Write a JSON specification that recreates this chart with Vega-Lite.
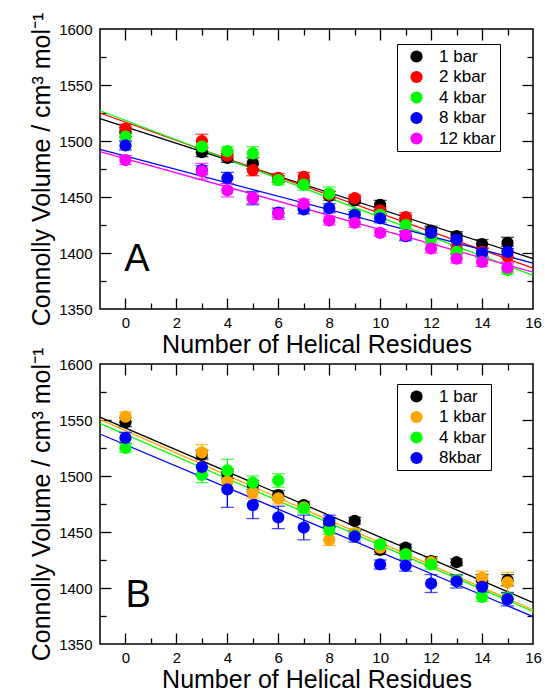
{
  "$schema": "https://vega.github.io/schema/vega-lite/v6.json",
  "padding": {"left": 28, "top": 11, "right": 4, "bottom": 0},
  "bounds": "flush",
  "spacing": 55,
  "datasets": {
    "ptsA": [
      {"s":"1 bar","x":0,"v":1508,"lo":1504,"hi":1512},
      {"s":"1 bar","x":3,"v":1490,"lo":1486,"hi":1494},
      {"s":"1 bar","x":4,"v":1485,"lo":1481,"hi":1489},
      {"s":"1 bar","x":5,"v":1480,"lo":1475,"hi":1485},
      {"s":"1 bar","x":6,"v":1466,"lo":1463,"hi":1469},
      {"s":"1 bar","x":7,"v":1462,"lo":1459,"hi":1465},
      {"s":"1 bar","x":8,"v":1451,"lo":1447,"hi":1455},
      {"s":"1 bar","x":9,"v":1447,"lo":1444,"hi":1450},
      {"s":"1 bar","x":10,"v":1443,"lo":1439,"hi":1447},
      {"s":"1 bar","x":11,"v":1431,"lo":1428,"hi":1434},
      {"s":"1 bar","x":12,"v":1420,"lo":1416,"hi":1424},
      {"s":"1 bar","x":13,"v":1415,"lo":1411,"hi":1419},
      {"s":"1 bar","x":14,"v":1408,"lo":1404,"hi":1412},
      {"s":"1 bar","x":15,"v":1409,"lo":1404,"hi":1414},
      {"s":"2 kbar","x":0,"v":1511,"lo":1507,"hi":1515},
      {"s":"2 kbar","x":3,"v":1500,"lo":1494,"hi":1506},
      {"s":"2 kbar","x":4,"v":1487,"lo":1483,"hi":1491},
      {"s":"2 kbar","x":5,"v":1474,"lo":1469,"hi":1479},
      {"s":"2 kbar","x":6,"v":1467,"lo":1463,"hi":1471},
      {"s":"2 kbar","x":7,"v":1468,"lo":1464,"hi":1472},
      {"s":"2 kbar","x":8,"v":1452,"lo":1449,"hi":1455},
      {"s":"2 kbar","x":9,"v":1449,"lo":1446,"hi":1452},
      {"s":"2 kbar","x":10,"v":1438,"lo":1435,"hi":1441},
      {"s":"2 kbar","x":11,"v":1432,"lo":1428,"hi":1436},
      {"s":"2 kbar","x":12,"v":1417,"lo":1414,"hi":1420},
      {"s":"2 kbar","x":13,"v":1403,"lo":1399,"hi":1407},
      {"s":"2 kbar","x":14,"v":1401,"lo":1397,"hi":1405},
      {"s":"2 kbar","x":15,"v":1397,"lo":1392,"hi":1402},
      {"s":"4 kbar","x":0,"v":1504,"lo":1500,"hi":1508},
      {"s":"4 kbar","x":3,"v":1495,"lo":1490,"hi":1500},
      {"s":"4 kbar","x":4,"v":1491,"lo":1487,"hi":1495},
      {"s":"4 kbar","x":5,"v":1489,"lo":1483,"hi":1495},
      {"s":"4 kbar","x":6,"v":1465,"lo":1461,"hi":1469},
      {"s":"4 kbar","x":7,"v":1461,"lo":1456,"hi":1466},
      {"s":"4 kbar","x":8,"v":1453,"lo":1447,"hi":1459},
      {"s":"4 kbar","x":9,"v":1435,"lo":1431,"hi":1439},
      {"s":"4 kbar","x":10,"v":1434,"lo":1430,"hi":1438},
      {"s":"4 kbar","x":11,"v":1425,"lo":1420,"hi":1430},
      {"s":"4 kbar","x":12,"v":1413,"lo":1409,"hi":1417},
      {"s":"4 kbar","x":13,"v":1401,"lo":1396,"hi":1406},
      {"s":"4 kbar","x":14,"v":1398,"lo":1394,"hi":1402},
      {"s":"4 kbar","x":15,"v":1385,"lo":1381,"hi":1389},
      {"s":"8 kbar","x":0,"v":1496,"lo":1492,"hi":1500},
      {"s":"8 kbar","x":3,"v":1474,"lo":1470,"hi":1478},
      {"s":"8 kbar","x":4,"v":1467,"lo":1462,"hi":1472},
      {"s":"8 kbar","x":5,"v":1449,"lo":1443,"hi":1455},
      {"s":"8 kbar","x":6,"v":1436,"lo":1432,"hi":1440},
      {"s":"8 kbar","x":7,"v":1439,"lo":1435,"hi":1443},
      {"s":"8 kbar","x":8,"v":1440,"lo":1436,"hi":1444},
      {"s":"8 kbar","x":9,"v":1434,"lo":1431,"hi":1437},
      {"s":"8 kbar","x":10,"v":1431,"lo":1427,"hi":1435},
      {"s":"8 kbar","x":11,"v":1415,"lo":1411,"hi":1419},
      {"s":"8 kbar","x":12,"v":1418,"lo":1413,"hi":1423},
      {"s":"8 kbar","x":13,"v":1412,"lo":1407,"hi":1417},
      {"s":"8 kbar","x":14,"v":1400,"lo":1396,"hi":1404},
      {"s":"8 kbar","x":15,"v":1401,"lo":1396,"hi":1406},
      {"s":"12 kbar","x":0,"v":1483,"lo":1479,"hi":1487},
      {"s":"12 kbar","x":3,"v":1473,"lo":1466,"hi":1480},
      {"s":"12 kbar","x":4,"v":1456,"lo":1450,"hi":1462},
      {"s":"12 kbar","x":5,"v":1449,"lo":1444,"hi":1454},
      {"s":"12 kbar","x":6,"v":1435,"lo":1430,"hi":1440},
      {"s":"12 kbar","x":7,"v":1444,"lo":1440,"hi":1448},
      {"s":"12 kbar","x":8,"v":1429,"lo":1425,"hi":1433},
      {"s":"12 kbar","x":9,"v":1427,"lo":1423,"hi":1431},
      {"s":"12 kbar","x":10,"v":1418,"lo":1415,"hi":1421},
      {"s":"12 kbar","x":11,"v":1416,"lo":1412,"hi":1420},
      {"s":"12 kbar","x":12,"v":1404,"lo":1400,"hi":1408},
      {"s":"12 kbar","x":13,"v":1395,"lo":1391,"hi":1399},
      {"s":"12 kbar","x":14,"v":1392,"lo":1388,"hi":1396},
      {"s":"12 kbar","x":15,"v":1387,"lo":1383,"hi":1391}
    ],
    "fitA": [
      {"s":"1 bar","x":-1,"v":1520},{"s":"1 bar","x":16,"v":1395},
      {"s":"2 kbar","x":-1,"v":1525},{"s":"2 kbar","x":16,"v":1386.5},
      {"s":"4 kbar","x":-1,"v":1527},{"s":"4 kbar","x":16,"v":1380},
      {"s":"8 kbar","x":-1,"v":1492.5},{"s":"8 kbar","x":16,"v":1391},
      {"s":"12 kbar","x":-1,"v":1490.5},{"s":"12 kbar","x":16,"v":1383}
    ],
    "ptsB": [
      {"s":"1 bar","x":0,"v":1548,"lo":1544,"hi":1552},
      {"s":"1 bar","x":3,"v":1519,"lo":1515,"hi":1523},
      {"s":"1 bar","x":4,"v":1502,"lo":1498,"hi":1506},
      {"s":"1 bar","x":5,"v":1492,"lo":1488,"hi":1496},
      {"s":"1 bar","x":6,"v":1483,"lo":1479,"hi":1487},
      {"s":"1 bar","x":7,"v":1474,"lo":1471,"hi":1477},
      {"s":"1 bar","x":8,"v":1458,"lo":1454,"hi":1462},
      {"s":"1 bar","x":9,"v":1460,"lo":1457,"hi":1463},
      {"s":"1 bar","x":10,"v":1434,"lo":1430,"hi":1438},
      {"s":"1 bar","x":11,"v":1436,"lo":1433,"hi":1439},
      {"s":"1 bar","x":12,"v":1424,"lo":1420,"hi":1428},
      {"s":"1 bar","x":13,"v":1423,"lo":1420,"hi":1426},
      {"s":"1 bar","x":14,"v":1407,"lo":1402,"hi":1412},
      {"s":"1 bar","x":15,"v":1407,"lo":1402,"hi":1412},
      {"s":"1 kbar","x":0,"v":1553,"lo":1549,"hi":1557},
      {"s":"1 kbar","x":3,"v":1521,"lo":1514,"hi":1528},
      {"s":"1 kbar","x":4,"v":1495,"lo":1489,"hi":1501},
      {"s":"1 kbar","x":5,"v":1485,"lo":1480,"hi":1490},
      {"s":"1 kbar","x":6,"v":1480,"lo":1475,"hi":1485},
      {"s":"1 kbar","x":7,"v":1472,"lo":1468,"hi":1476},
      {"s":"1 kbar","x":8,"v":1443,"lo":1438,"hi":1448},
      {"s":"1 kbar","x":9,"v":1449,"lo":1445,"hi":1453},
      {"s":"1 kbar","x":10,"v":1436,"lo":1432,"hi":1440},
      {"s":"1 kbar","x":11,"v":1430,"lo":1426,"hi":1434},
      {"s":"1 kbar","x":12,"v":1423,"lo":1419,"hi":1427},
      {"s":"1 kbar","x":13,"v":1407,"lo":1403,"hi":1411},
      {"s":"1 kbar","x":14,"v":1409,"lo":1403,"hi":1415},
      {"s":"1 kbar","x":15,"v":1405,"lo":1396,"hi":1414},
      {"s":"4 kbar","x":0,"v":1525,"lo":1521,"hi":1529},
      {"s":"4 kbar","x":3,"v":1501,"lo":1494,"hi":1508},
      {"s":"4 kbar","x":4,"v":1505,"lo":1495,"hi":1515},
      {"s":"4 kbar","x":5,"v":1494,"lo":1488,"hi":1500},
      {"s":"4 kbar","x":6,"v":1496,"lo":1490,"hi":1502},
      {"s":"4 kbar","x":7,"v":1471,"lo":1467,"hi":1475},
      {"s":"4 kbar","x":8,"v":1452,"lo":1448,"hi":1456},
      {"s":"4 kbar","x":9,"v":1447,"lo":1443,"hi":1451},
      {"s":"4 kbar","x":10,"v":1439,"lo":1436,"hi":1442},
      {"s":"4 kbar","x":11,"v":1430,"lo":1426,"hi":1434},
      {"s":"4 kbar","x":12,"v":1421,"lo":1417,"hi":1425},
      {"s":"4 kbar","x":13,"v":1407,"lo":1403,"hi":1411},
      {"s":"4 kbar","x":14,"v":1392,"lo":1388,"hi":1396},
      {"s":"4 kbar","x":15,"v":1391,"lo":1387,"hi":1395},
      {"s":"8kbar","x":0,"v":1534,"lo":1529,"hi":1539},
      {"s":"8kbar","x":3,"v":1508,"lo":1500,"hi":1516},
      {"s":"8kbar","x":4,"v":1488,"lo":1472,"hi":1504},
      {"s":"8kbar","x":5,"v":1474,"lo":1462,"hi":1486},
      {"s":"8kbar","x":6,"v":1463,"lo":1453,"hi":1473},
      {"s":"8kbar","x":7,"v":1454,"lo":1443,"hi":1465},
      {"s":"8kbar","x":8,"v":1460,"lo":1455,"hi":1465},
      {"s":"8kbar","x":9,"v":1446,"lo":1441,"hi":1451},
      {"s":"8kbar","x":10,"v":1421,"lo":1417,"hi":1425},
      {"s":"8kbar","x":11,"v":1420,"lo":1415,"hi":1425},
      {"s":"8kbar","x":12,"v":1404,"lo":1396,"hi":1412},
      {"s":"8kbar","x":13,"v":1406,"lo":1400,"hi":1412},
      {"s":"8kbar","x":14,"v":1401,"lo":1396,"hi":1406},
      {"s":"8kbar","x":15,"v":1390,"lo":1384,"hi":1396}
    ],
    "fitB": [
      {"s":"1 bar","x":-1,"v":1552.5},{"s":"1 bar","x":16,"v":1387},
      {"s":"1 kbar","x":-1,"v":1550.5},{"s":"1 kbar","x":16,"v":1380.5},
      {"s":"4 kbar","x":-1,"v":1547},{"s":"4 kbar","x":16,"v":1379},
      {"s":"8kbar","x":-1,"v":1537.5},{"s":"8kbar","x":16,"v":1374.5}
    ],
    "labA": [{"t":"A","x":0.45,"v":1384}],
    "labB": [{"t":"B","x":0.5,"v":1383.3}]
  },
  "vconcat": [
    {
      "width": 433,
      "height": 280,
      "layer": [
        {
          "data": {"name": "fitA"},
          "mark": {"type": "line", "strokeWidth": 1.3},
          "encoding": {
            "x": {"field": "x", "type": "quantitative", "scale": {"domain": [-1, 16], "nice": false, "zero": false},
                  "axis": {"orient": "bottom", "values": [0,2,4,6,8,10,12,14,16], "format": "d", "ticks": false, "domain": false, "labelPadding": 6, "labelFlush": false, "labelOverlap": false, "title": "Number of Helical Residues", "titlePadding": 2}},
            "y": {"field": "v", "type": "quantitative", "scale": {"domain": [1350, 1600], "nice": false, "zero": false},
                  "axis": {"orient": "left", "values": [1350,1400,1450,1500,1550,1600], "format": "d", "ticks": false, "domain": false, "labelPadding": 8, "labelOverlap": false, "title": "Connolly Volume / cm³ mol⁻¹", "titlePadding": 4}},
            "stroke": {"field": "s", "type": "nominal", "scale": {"domain": ["12 kbar","8 kbar","4 kbar","2 kbar","1 bar"], "range": ["#ff00ff","#0000ff","#00ff00","#ff0000","#000000"]}, "legend": null}
          }
        },
        {
          "data": {"name": "ptsA"},
          "mark": {"type": "rule", "strokeWidth": 1.3},
          "encoding": {
            "x": {"field": "x", "type": "quantitative", "scale": {"domain": [-1, 16], "nice": false, "zero": false},
                  "axis": {"orient": "bottom", "values": [0,2,4,6,8,10,12,14], "labels": false, "domain": false, "ticks": true, "tickSize": 11, "offset": -11, "title": null}},
            "y": {"field": "lo", "type": "quantitative", "scale": {"domain": [1350, 1600], "nice": false, "zero": false},
                  "axis": {"orient": "left", "values": [1400,1450,1500,1550], "labels": false, "domain": false, "ticks": true, "tickSize": 11, "offset": -11, "title": null}},
            "y2": {"field": "hi"},
            "stroke": {"field": "s", "type": "nominal", "legend": null}
          }
        },
        {
          "data": {"name": "ptsA"},
          "mark": {"type": "tick", "orient": "horizontal", "size": 13, "thickness": 1.3},
          "encoding": {
            "x": {"field": "x", "type": "quantitative", "scale": {"domain": [-1, 16], "nice": false, "zero": false},
                  "axis": {"orient": "bottom", "values": [1,3,5,7,9,11,13,15], "labels": false, "domain": false, "ticks": true, "tickSize": 6, "offset": -6, "title": null}},
            "y": {"field": "lo", "type": "quantitative", "scale": {"domain": [1350, 1600], "nice": false, "zero": false},
                  "axis": {"orient": "left", "values": [1375,1425,1475,1525,1575], "labels": false, "domain": false, "ticks": true, "tickSize": 6, "offset": -6, "title": null}},
            "fill": {"field": "s", "type": "nominal", "scale": {"domain": ["2 kbar","1 bar","4 kbar","12 kbar","8 kbar"], "range": ["#ff0000","#000000","#00ff00","#ff00ff","#0000ff"]}, "legend": null}
          }
        },
        {
          "data": {"name": "ptsA"},
          "mark": {"type": "tick", "orient": "horizontal", "size": 13, "thickness": 1.3},
          "encoding": {
            "x": {"field": "x", "type": "quantitative", "scale": {"domain": [-1, 16], "nice": false, "zero": false},
                  "axis": {"orient": "top", "values": [0,2,4,6,8,10,12,14], "labels": false, "domain": false, "ticks": true, "tickSize": 11, "offset": -11, "title": null}},
            "y": {"field": "hi", "type": "quantitative", "scale": {"domain": [1350, 1600], "nice": false, "zero": false},
                  "axis": {"orient": "right", "values": [1400,1450,1500,1550], "labels": false, "domain": false, "ticks": true, "tickSize": 11, "offset": -11, "title": null}},
            "fill": {"field": "s", "type": "nominal", "legend": null}
          }
        },
        {
          "data": {"name": "ptsA"},
          "mark": {"type": "point", "filled": true, "shape": "circle", "size": 150, "opacity": 1},
          "encoding": {
            "x": {"field": "x", "type": "quantitative", "scale": {"domain": [-1, 16], "nice": false, "zero": false},
                  "axis": {"orient": "top", "values": [1,3,5,7,9,11,13,15], "labels": false, "domain": false, "ticks": true, "tickSize": 6, "offset": -6, "title": null}},
            "y": {"field": "v", "type": "quantitative", "scale": {"domain": [1350, 1600], "nice": false, "zero": false},
                  "axis": {"orient": "right", "values": [1375,1425,1475,1525,1575], "labels": false, "domain": false, "ticks": true, "tickSize": 6, "offset": -6, "title": null}},
            "color": {"field": "s", "type": "nominal", "scale": {"domain": ["1 bar","2 kbar","4 kbar","8 kbar","12 kbar"], "range": ["#000000","#ff0000","#00ff00","#0000ff","#ff00ff"]},
                      "legend": {"orient": "none", "legendX": 297, "legendY": 15, "title": null, "strokeColor": "black", "fillColor": "white", "padding": 4, "symbolType": "circle", "symbolSize": 150, "symbolStrokeWidth": 0, "labelFontSize": 17, "labelColor": "black", "labelOffset": 14, "rowPadding": 2.5, "symbolOffset": 7}}
          }
        },
        {
          "data": {"name": "labA"},
          "mark": {"type": "text", "fontSize": 38, "align": "center", "baseline": "alphabetic", "color": "black"},
          "encoding": {
            "x": {"field": "x", "type": "quantitative", "scale": {"domain": [-1, 16], "nice": false, "zero": false}, "axis": null},
            "y": {"field": "v", "type": "quantitative", "scale": {"domain": [1350, 1600], "nice": false, "zero": false}, "axis": null},
            "text": {"field": "t"}
          }
        }
      ],
      "resolve": {"axis": {"x": "independent", "y": "independent"}}
    },
    {
      "width": 433,
      "height": 280,
      "layer": [
        {
          "data": {"name": "fitB"},
          "mark": {"type": "line", "strokeWidth": 1.3},
          "encoding": {
            "x": {"field": "x", "type": "quantitative", "scale": {"domain": [-1, 16], "nice": false, "zero": false},
                  "axis": {"orient": "bottom", "values": [0,2,4,6,8,10,12,14,16], "format": "d", "ticks": false, "domain": false, "labelPadding": 6, "labelFlush": false, "labelOverlap": false, "title": "Number of Helical Residues", "titlePadding": 2}},
            "y": {"field": "v", "type": "quantitative", "scale": {"domain": [1350, 1600], "nice": false, "zero": false},
                  "axis": {"orient": "left", "values": [1350,1400,1450,1500,1550,1600], "format": "d", "ticks": false, "domain": false, "labelPadding": 8, "labelOverlap": false, "title": "Connolly Volume / cm³ mol⁻¹", "titlePadding": 4}},
            "stroke": {"field": "s", "type": "nominal", "scale": {"domain": ["8kbar","4 kbar","1 kbar","1 bar"], "range": ["#0000ff","#00ff00","#ffa500","#000000"]}, "legend": null}
          }
        },
        {
          "data": {"name": "ptsB"},
          "mark": {"type": "rule", "strokeWidth": 1.3},
          "encoding": {
            "x": {"field": "x", "type": "quantitative", "scale": {"domain": [-1, 16], "nice": false, "zero": false},
                  "axis": {"orient": "bottom", "values": [0,2,4,6,8,10,12,14], "labels": false, "domain": false, "ticks": true, "tickSize": 11, "offset": -11, "title": null}},
            "y": {"field": "lo", "type": "quantitative", "scale": {"domain": [1350, 1600], "nice": false, "zero": false},
                  "axis": {"orient": "left", "values": [1400,1450,1500,1550], "labels": false, "domain": false, "ticks": true, "tickSize": 11, "offset": -11, "title": null}},
            "y2": {"field": "hi"},
            "stroke": {"field": "s", "type": "nominal", "legend": null}
          }
        },
        {
          "data": {"name": "ptsB"},
          "mark": {"type": "tick", "orient": "horizontal", "size": 13, "thickness": 1.3},
          "encoding": {
            "x": {"field": "x", "type": "quantitative", "scale": {"domain": [-1, 16], "nice": false, "zero": false},
                  "axis": {"orient": "bottom", "values": [1,3,5,7,9,11,13,15], "labels": false, "domain": false, "ticks": true, "tickSize": 6, "offset": -6, "title": null}},
            "y": {"field": "lo", "type": "quantitative", "scale": {"domain": [1350, 1600], "nice": false, "zero": false},
                  "axis": {"orient": "left", "values": [1375,1425,1475,1525,1575], "labels": false, "domain": false, "ticks": true, "tickSize": 6, "offset": -6, "title": null}},
            "fill": {"field": "s", "type": "nominal", "scale": {"domain": ["1 kbar","1 bar","4 kbar","8kbar"], "range": ["#ffa500","#000000","#00ff00","#0000ff"]}, "legend": null}
          }
        },
        {
          "data": {"name": "ptsB"},
          "mark": {"type": "tick", "orient": "horizontal", "size": 13, "thickness": 1.3},
          "encoding": {
            "x": {"field": "x", "type": "quantitative", "scale": {"domain": [-1, 16], "nice": false, "zero": false},
                  "axis": {"orient": "top", "values": [0,2,4,6,8,10,12,14], "labels": false, "domain": false, "ticks": true, "tickSize": 11, "offset": -11, "title": null}},
            "y": {"field": "hi", "type": "quantitative", "scale": {"domain": [1350, 1600], "nice": false, "zero": false},
                  "axis": {"orient": "right", "values": [1400,1450,1500,1550], "labels": false, "domain": false, "ticks": true, "tickSize": 11, "offset": -11, "title": null}},
            "fill": {"field": "s", "type": "nominal", "legend": null}
          }
        },
        {
          "data": {"name": "ptsB"},
          "mark": {"type": "point", "filled": true, "shape": "circle", "size": 150, "opacity": 1},
          "encoding": {
            "x": {"field": "x", "type": "quantitative", "scale": {"domain": [-1, 16], "nice": false, "zero": false},
                  "axis": {"orient": "top", "values": [1,3,5,7,9,11,13,15], "labels": false, "domain": false, "ticks": true, "tickSize": 6, "offset": -6, "title": null}},
            "y": {"field": "v", "type": "quantitative", "scale": {"domain": [1350, 1600], "nice": false, "zero": false},
                  "axis": {"orient": "right", "values": [1375,1425,1475,1525,1575], "labels": false, "domain": false, "ticks": true, "tickSize": 6, "offset": -6, "title": null}},
            "color": {"field": "s", "type": "nominal", "scale": {"domain": ["1 bar","1 kbar","4 kbar","8kbar"], "range": ["#000000","#ffa500","#00ff00","#0000ff"]},
                      "legend": {"orient": "none", "legendX": 297, "legendY": 20, "title": null, "strokeColor": "black", "fillColor": "white", "padding": 4, "symbolType": "circle", "symbolSize": 150, "symbolStrokeWidth": 0, "labelFontSize": 17, "labelColor": "black", "labelOffset": 14, "rowPadding": 2.5, "symbolOffset": 7}}
          }
        },
        {
          "data": {"name": "labB"},
          "mark": {"type": "text", "fontSize": 38, "align": "center", "baseline": "alphabetic", "color": "black"},
          "encoding": {
            "x": {"field": "x", "type": "quantitative", "scale": {"domain": [-1, 16], "nice": false, "zero": false}, "axis": null},
            "y": {"field": "v", "type": "quantitative", "scale": {"domain": [1350, 1600], "nice": false, "zero": false}, "axis": null},
            "text": {"field": "t"}
          }
        }
      ],
      "resolve": {"axis": {"x": "independent", "y": "independent"}}
    }
  ],
  "resolve": {
    "scale": {"color": "independent", "stroke": "independent", "fill": "independent"},
    "legend": {"color": "independent", "stroke": "independent", "fill": "independent"}
  },
  "config": {
    "font": "Liberation Sans",
    "view": {"stroke": "black", "strokeWidth": 1.5},
    "axis": {"labelFont": "Liberation Sans", "labelFontSize": 15, "labelColor": "black", "titleFont": "Liberation Sans", "titleFontSize": 25, "titleFontWeight": "normal", "titleColor": "black", "tickColor": "black", "tickWidth": 1.3, "grid": false},
    "legend": {"labelFont": "Liberation Sans"},
    "text": {"font": "Liberation Sans"}
  }
}
